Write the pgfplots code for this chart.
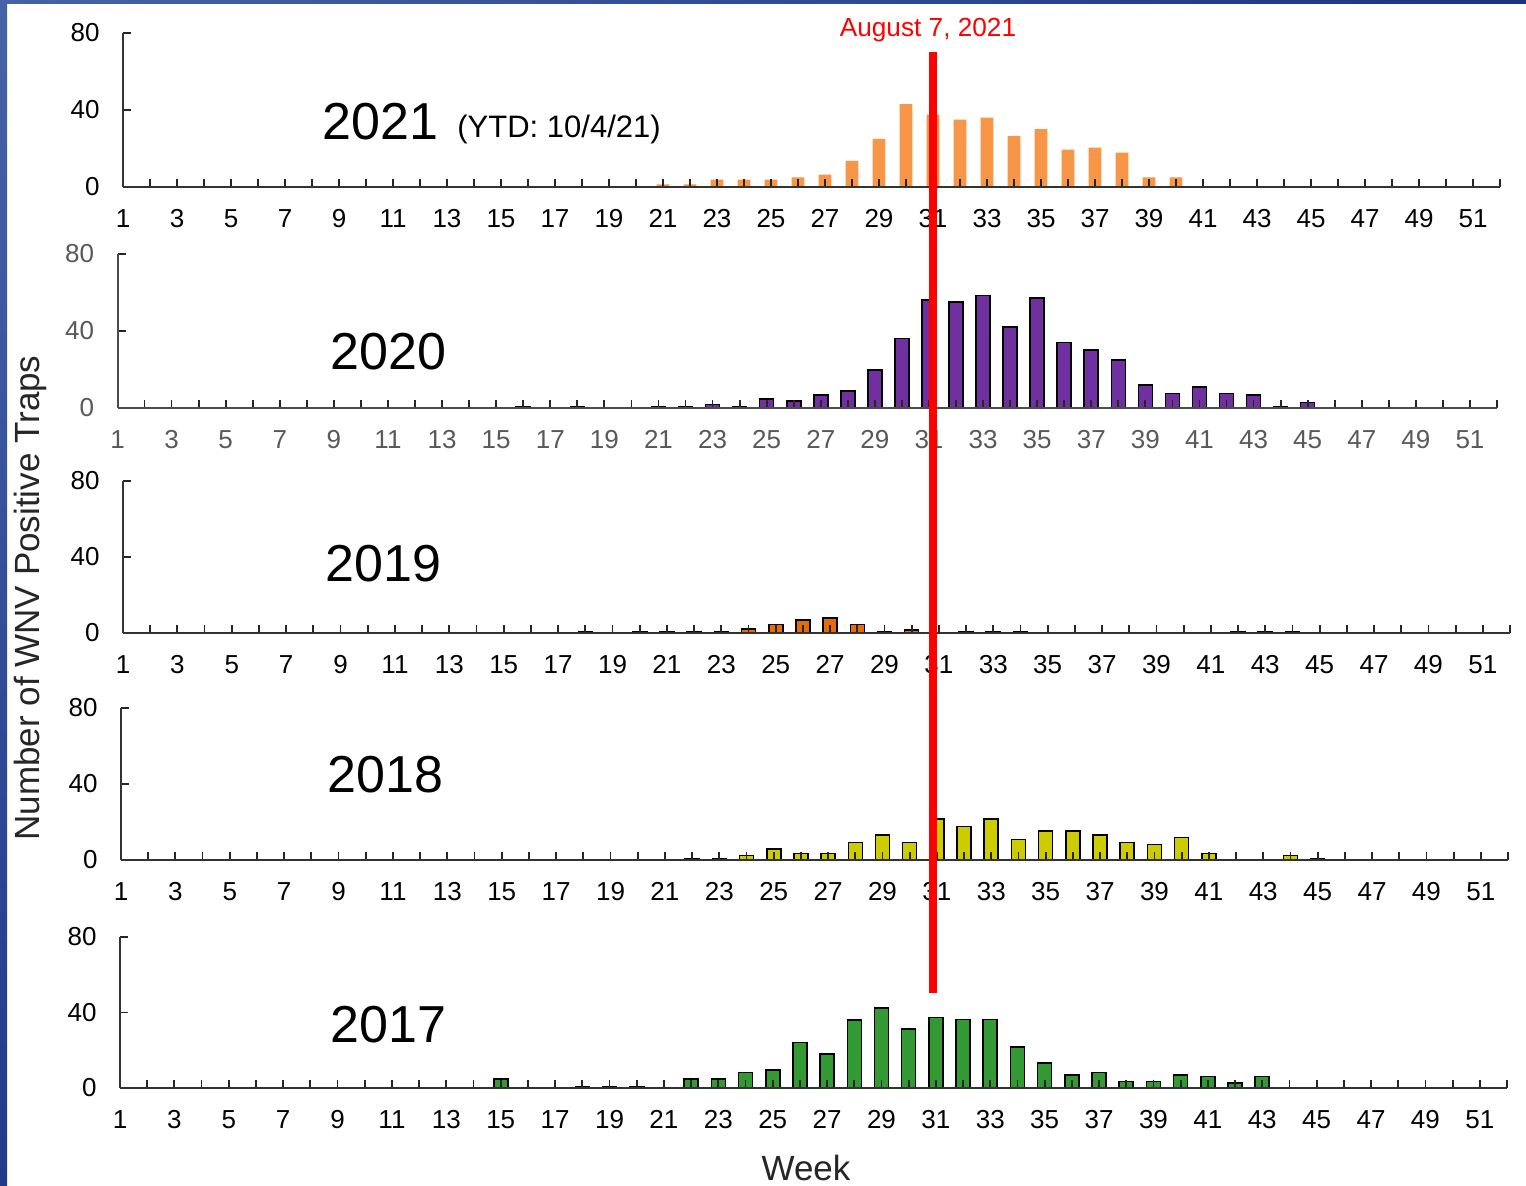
\documentclass[border=0pt]{standalone}
\usepackage{pgfplots}
\pgfplotsset{compat=1.18}
\usepackage{fontspec}
\setmainfont{Liberation Sans}
\definecolor{c2021}{HTML}{F79646}
\definecolor{c2020}{HTML}{7030A0}
\definecolor{c2019}{HTML}{E46C0A}
\definecolor{c2018}{HTML}{CCCC00}
\definecolor{c2017}{HTML}{339933}
\definecolor{slideA}{HTML}{4862A8}
\definecolor{slideB}{HTML}{1E3380}
\definecolor{slideC}{HTML}{23398A}
\pgfplotsset{
  panel/.style={
    scale only axis, anchor=south west,
    axis x line=bottom, axis y line=left,
    axis line style={-, line width=1pt, draw=black!80},
    xmin=1, xmax=52, ymin=0, ymax=80,
    xtick={1,3,...,51}, minor xtick={2,4,...,52}, ytick={0,40,80},
    tick align=inside, major tick length=4pt, minor tick length=4pt,
    every tick/.style={line width=0.9pt, black!85},
    /pgf/number format/assume math mode=true,
    tick label style={font=\fontsize{13}{15}\selectfont, inner sep=0pt},
    xticklabel style={anchor=base, yshift=-20.25pt},
    yticklabel style={anchor=east, xshift=-11.5pt},
    axis on top, clip=false,
  },
  bars/.style={ybar, bar width=7pt, draw=black, line width=0.8pt},
}
\begin{document}
\begin{tikzpicture}
\path[use as bounding box, fill=white] (0,0) rectangle (763pt,593pt);
\shade[left color=slideA, right color=slideB] (0,591pt) rectangle (763pt,593pt);
\shade[top color=slideA, bottom color=slideC] (0,0) rectangle (3.5pt,593pt);

% 2021
\begin{axis}[panel, at={(61.5pt,499.5pt)}, width=688.5pt, height=77pt]
\addplot[ybar, bar width=6.35pt, fill=c2021, draw=none] coordinates {
(21,1.3) (22,1.3) (23,3.8) (24,3.8) (25,3.8) (26,5) (27,6.4) (28,13.5) (29,25)
(30,43) (31,37.6) (32,35) (33,36) (34,26.5) (35,30) (36,19.4) (37,20.4) (38,17.8)
(39,5) (40,5)};
\end{axis}

% 2020
\begin{axis}[panel, at={(58.75pt,389pt)}, width=689.75pt, height=77pt,
  tick label style={text=black!65}, axis line style={draw=black!70}]
\addplot[bars, fill=c2020] coordinates {
(16,0.7) (18,0.7) (21,0.7) (22,0.7) (23,1.9) (24,0.7) (25,4.8) (26,3.6) (27,6.6)
(28,8.8) (29,19.6) (30,36) (31,56) (32,55) (33,58.5) (34,42) (35,57) (36,34)
(37,30) (38,25) (39,12) (40,7.5) (41,11) (42,7.5) (43,6.6) (44,0.7) (45,2.8)};
\end{axis}

% 2019
\begin{axis}[panel, at={(61.5pt,276.5pt)}, width=693.5pt, height=76pt]
\addplot[bars, fill=c2019] coordinates {
(18,0.7) (20,0.7) (21,0.7) (22,0.7) (23,0.7) (24,2) (25,4.5) (26,6.8) (27,8)
(28,4.5) (29,0.7) (30,1.7) (32,0.7) (33,0.7) (34,0.7) (42,0.7) (43,0.7) (44,0.7)};
\end{axis}

% 2018
\begin{axis}[panel, at={(60.5pt,163pt)}, width=693.5pt, height=76pt]
\addplot[bars, fill=c2018] coordinates {
(22,0.7) (23,0.7) (24,2.3) (25,5.8) (26,3.5) (27,3.5) (28,9.3) (29,13.2) (30,9.3)
(31,21.6) (32,17.7) (33,21.6) (34,10.7) (35,15.4) (36,15.4) (37,13.2) (38,9.3)
(39,8.2) (40,11.8) (41,3.5) (44,2.3) (45,0.7)};
\end{axis}

% 2017
\begin{axis}[panel, at={(60pt,49pt)}, width=693.5pt, height=75.5pt]
\addplot[bars, fill=c2017] coordinates {
(15,4.8) (18,0.7) (19,0.7) (20,0.7) (22,4.8) (23,4.8) (24,8.3) (25,9.5) (26,24)
(27,18) (28,36) (29,42.3) (30,31.4) (31,37.4) (32,36.2) (33,36.2) (34,21.7)
(35,13.2) (36,7) (37,8.3) (38,3.5) (39,3.5) (40,7) (41,6) (42,2.5) (43,6)};
\end{axis}

% year labels
\node[anchor=base west, inner sep=0pt, font=\fontsize{26}{30}\selectfont] at (161pt,523pt) {2021};
\node[anchor=base west, inner sep=0pt, font=\fontsize{15.5}{18}\selectfont] at (228.5pt,524pt) {(YTD: 10/4/21)};
\node[anchor=base west, inner sep=0pt, font=\fontsize{26}{30}\selectfont] at (165pt,408pt) {2020};
\node[anchor=base west, inner sep=0pt, font=\fontsize{26}{30}\selectfont] at (162.5pt,302pt) {2019};
\node[anchor=base west, inner sep=0pt, font=\fontsize{26}{30}\selectfont] at (163.5pt,196.5pt) {2018};
\node[anchor=base west, inner sep=0pt, font=\fontsize{26}{30}\selectfont] at (165pt,71.5pt) {2017};

% axis titles
\node[rotate=90, inner sep=0pt, font=\fontsize{17.5}{20}\selectfont, text=black!85] at (15pt,294pt) {Number of WNV Positive Traps};
\node[inner sep=0pt, font=\fontsize{17.5}{20}\selectfont, text=black!85] at (403pt,9pt) {Week};

% August 7 marker
\draw[red, line width=3.6pt] (466.5pt,567pt) -- (466.5pt,96.5pt);
\node[anchor=base, inner sep=0pt, text=red, font=\fontsize{13.1}{15}\selectfont] at (464pt,574.8pt) {August 7, 2021};
\end{tikzpicture}
\end{document}
